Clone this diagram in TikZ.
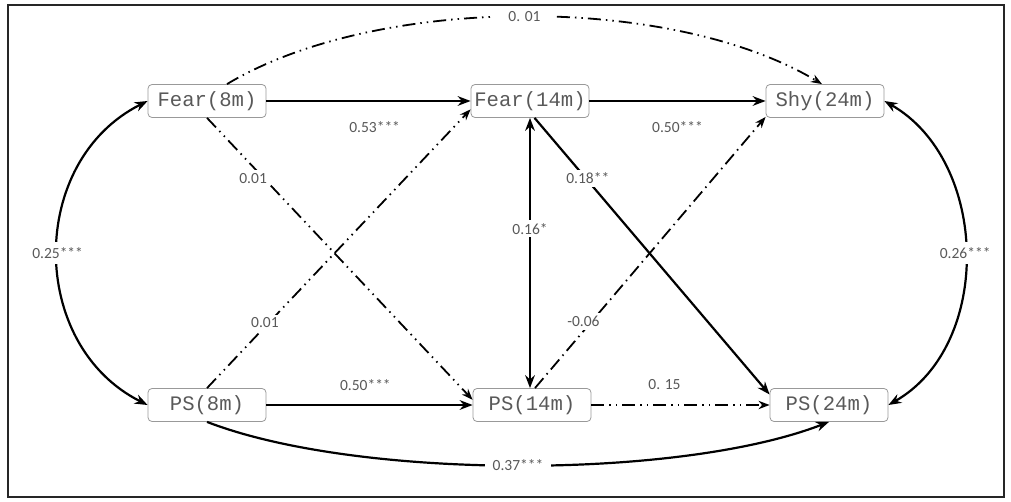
\documentclass[tikz,border=0pt]{standalone}
\usepackage{fontspec}
\setmainfont{Carlito}
\newfontfamily\boxfont{Liberation Mono}
\usetikzlibrary{arrows.meta,positioning}

\begin{document}
\begin{tikzpicture}[x=1pt,y=-1pt,>=Stealth,
  box/.style={draw=black!40,thick,rounded corners=4pt,text=black!65,font=\boxfont\fontsize{20.6}{24}\selectfont,minimum width=118pt,minimum height=33pt,inner sep=0pt},
  lbl/.style={font=\fontsize{15.5}{18}\selectfont,text=black!65,fill=white,inner sep=3pt},
  sig/.style={->,line width=2.2pt},
  nsig/.style={->,line width=1.8pt,dash pattern=on 13pt off 5pt on 1.5pt off 5pt on 1.5pt off 5pt},
  nsigb/.style={->,line width=1.8pt,dash pattern=on 13pt off 5pt on 1.5pt off 5pt}]
\useasboundingbox (0,0) rectangle (1011,502);
\draw[line width=1.2pt,black!85] (8,5) rectangle (1004,497);
% measures
\node[box] (f8) at (207,101) {Fear(8m)};
\node[box] (f14) at (530,101) {Fear(14m)};
\node[box] (shy24) at (825,101) {Shy(24m)};
\node[box] (ps8) at (207,405) {PS(8m)};
\node[box] (ps14) at (532,405) {PS(14m)};
\node[box] (ps24) at (829,405) {PS(24m)};
% stability paths
\draw[sig] (f8.east) -- (f14.west) node[lbl,pos=0.53,yshift=-26pt] {0.53***};
\draw[sig] (f14.east) -- (shy24.west) node[lbl,pos=0.5,yshift=-26pt] {0.50***};
\draw[sig] (ps8.east) -- (ps14.west) node[lbl,pos=0.48,yshift=20pt] {0.50***};
\draw[nsig] (ps14.east) -- (ps24.west) node[lbl,pos=0.41,yshift=20pt] {0. 15};
% cross-lagged paths
\draw[nsig] (f8.south) -- (ps14.175) node[lbl,pos=0.2,xshift=-7pt,yshift=-4pt] {0.01};
\draw[nsig] (ps8.north) -- (f14.188) node[lbl,pos=0.235,xshift=-4pt] {0.01};
\draw[sig] (f14.-75) -- (ps24.170) node[lbl,pos=0.218,xshift=2pt] {0.18**};
\draw[nsigb] (ps14.80) -- (shy24.195) node[lbl,pos=0.245,xshift=-8pt] {-0.06};
\draw[sig,<->] (f14.south) -- (f14.south |- ps14.north) node[lbl,pos=0.41] {0.16*};
% long paths and covariances
\draw[nsig] ([xshift=20pt]f8.north) .. controls +(150,-90) and +(-150,-90) .. ([xshift=-3pt]shy24.north) node[lbl,pos=0.5,inner xsep=14pt] {0. 01};
\draw[sig] (ps8.south) .. controls +(150,58) and +(-150,58) .. (ps24.south) node[lbl,pos=0.5,inner xsep=8pt] {0.37***};
\draw[sig,<->] (f8.west) .. controls +(-120,60) and +(-120,-60) .. (ps8.west) node[lbl,pos=0.5,inner ysep=5pt] {0.25***};
\draw[sig,<->] (shy24.east) .. controls +(105,60) and +(105,-60) .. (ps24.east) node[lbl,pos=0.5,inner ysep=5pt] {0.26***};
\end{tikzpicture}
\end{document}
